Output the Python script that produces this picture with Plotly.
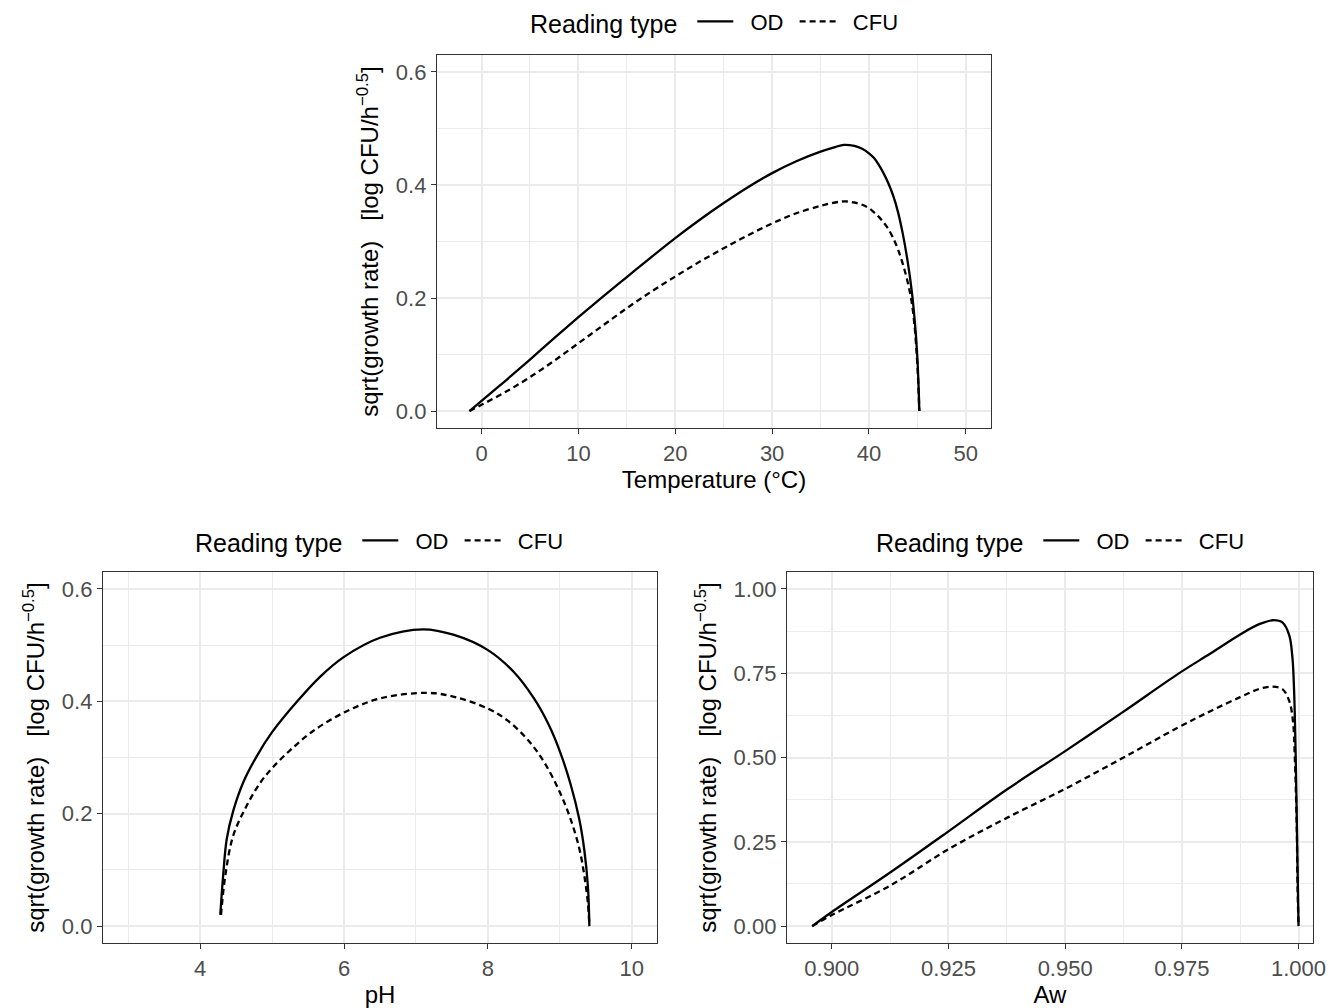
import plotly.graph_objects as go

# Temperature panel
temp_od_x = [-1.25, 0, 2.5, 5, 7.5, 10, 12.5, 15, 17.5, 20, 22.5, 25, 27.5, 30, 32.5, 35, 36.5,
             37.4, 38.5, 39.3, 40, 40.5, 41, 41.5, 42, 42.5, 43, 43.5, 44, 44.4, 44.7, 44.95,
             45.1, 45.2]
temp_od_y = [0.0, 0.018, 0.054, 0.091, 0.129, 0.166, 0.202, 0.237, 0.272, 0.306, 0.338, 0.368,
             0.396, 0.421, 0.442, 0.459, 0.467, 0.471, 0.469, 0.464, 0.456, 0.448, 0.436, 0.421,
             0.403, 0.381, 0.352, 0.313, 0.264, 0.215, 0.165, 0.108, 0.055, 0.0]
temp_cfu_x = [-1.25, 0, 2.5, 5, 7.5, 10, 12.5, 15, 17.5, 20, 22.5, 25, 27.5, 30, 32.5, 35, 36.5,
              37.5, 38.5, 39.3, 40, 40.5, 41, 41.5, 42, 42.5, 43, 43.5, 44, 44.4, 44.7, 44.95,
              45.1, 45.2]
temp_cfu_y = [0.0, 0.011, 0.034, 0.060, 0.089, 0.120, 0.151, 0.182, 0.211, 0.238, 0.264, 0.288,
              0.311, 0.332, 0.350, 0.363, 0.369, 0.371, 0.369, 0.365, 0.359, 0.352, 0.344, 0.334,
              0.322, 0.306, 0.286, 0.260, 0.228, 0.194, 0.152, 0.095, 0.045, 0.0]

# pH panel
ph_od_x = [4.28, 4.32, 4.37, 4.46, 4.60, 4.79, 5.0, 5.35, 5.67, 6.0, 6.5, 7.1, 7.53, 8.0, 8.36,
           8.64, 8.85, 9.0, 9.15, 9.27, 9.34, 9.39, 9.41]
ph_od_y = [0.02, 0.09, 0.155, 0.205, 0.256, 0.303, 0.345, 0.40, 0.444, 0.479, 0.513, 0.528, 0.518,
           0.491, 0.452, 0.405, 0.357, 0.311, 0.252, 0.19, 0.135, 0.070, 0.0]
ph_cfu_x = [4.29, 4.35, 4.46, 4.65, 4.84, 5.0, 5.26, 5.58, 6.0, 6.5, 7.15, 7.53, 8.0, 8.27, 8.55,
            8.78, 9.0, 9.15, 9.27, 9.34, 9.39, 9.41]
ph_cfu_y = [0.02, 0.09, 0.161, 0.215, 0.256, 0.281, 0.314, 0.348, 0.38, 0.405, 0.415, 0.408, 0.387,
            0.366, 0.332, 0.292, 0.238, 0.19, 0.138, 0.090, 0.040, 0.0]

# Aw panel
aw_od_x = [0.8958, 0.9, 0.9125, 0.925, 0.9375, 0.95, 0.9625, 0.9742, 0.9812, 0.9875, 0.9917,
           0.9945, 0.9966, 0.998, 0.9987, 0.99905, 0.9994, 0.99975, 1.0]
aw_od_y = [0.0, 0.042, 0.159, 0.281, 0.405, 0.519, 0.636, 0.748, 0.809, 0.865, 0.896, 0.907, 0.900,
           0.863, 0.795, 0.697, 0.50, 0.208, 0.0]
aw_cfu_x = [0.8958, 0.9, 0.9125, 0.925, 0.9375, 0.95, 0.9625, 0.9742, 0.9812, 0.9875, 0.9917,
            0.9945, 0.9966, 0.998, 0.9988, 0.9992, 0.9996, 0.9998, 1.0]
aw_cfu_y = [0.0, 0.033, 0.12, 0.228, 0.321, 0.407, 0.50, 0.589, 0.638, 0.679, 0.704, 0.710, 0.702,
            0.668, 0.609, 0.50, 0.306, 0.111, 0.0]

W, H = 1330, 1008
FONT = "Liberation Sans"
Y_TITLE = "sqrt(growth rate)   [log CFU/h<sup>\u22120.5</sup>]"
NB = "\u00a0"

panels = [
    (temp_od_x, temp_od_y, temp_cfu_x, temp_cfu_y, "", "legend"),
    (ph_od_x, ph_od_y, ph_cfu_x, ph_cfu_y, "2", "legend2"),
    (aw_od_x, aw_od_y, aw_cfu_x, aw_cfu_y, "3", "legend3"),
]

fig = go.Figure()
for odx, ody, cfux, cfuy, ax, leg in panels:
    fig.add_trace(go.Scatter(x=odx, y=ody, mode="lines", name=NB * 2 + "OD" + NB, legend=leg,
                             xaxis="x" + ax, yaxis="y" + ax,
                             line=dict(color="black", width=2.3, shape="spline", smoothing=1.0)))
    fig.add_trace(go.Scatter(x=cfux, y=cfuy, mode="lines", name=NB * 2 + "CFU", legend=leg,
                             xaxis="x" + ax, yaxis="y" + ax,
                             line=dict(color="black", width=2.3, dash="6px,4px",
                                       shape="spline", smoothing=1.0)))


def px(x):
    return x / W


def py(y):
    return 1 - y / H


def box(x0, y0, x1, y1):
    return [px(x0), px(x1)], [py(y1), py(y0)]


def axis_style(title, dtick, minor, rng, fmt, domain, anchor, standoff=6):
    return dict(
        title=dict(text=title, font=dict(size=24, color="black"), standoff=standoff),
        range=rng, dtick=dtick, tickformat=fmt, domain=domain, anchor=anchor,
        automargin=False,
        showgrid=True, gridcolor="#EBEBEB", gridwidth=1.6,
        minor=dict(dtick=minor, showgrid=True, gridcolor="#EBEBEB", gridwidth=0.8),
        showline=True, mirror=True, linecolor="#333333", linewidth=1.4,
        ticks="outside", ticklen=5, tickwidth=1.4, tickcolor="#333333",
        tickfont=dict(size=22, color="#4D4D4D"), zeroline=False,
    )


dx1, dy1 = box(437, 55, 991, 428)
dx2, dy2 = box(103, 572, 657, 943)
dx3, dy3 = box(787, 572, 1313, 943)

legend_style = dict(
    orientation="h", xanchor="center", yanchor="middle",
    title=dict(text="Reading type ", side="left", font=dict(size=25, color="black")),
    font=dict(size=22, color="black"), bgcolor="rgba(0,0,0,0)", itemwidth=36,
)

fig.update_layout(
    width=W, height=H,
    margin=dict(l=0, r=0, t=0, b=0, autoexpand=False),
    paper_bgcolor="white", plot_bgcolor="white",
    font=dict(family=FONT, color="black"),
    xaxis=axis_style("Temperature (\u00b0C)", 10, 5, [-4.6, 52.6], "d", dx1, "y"),
    yaxis=axis_style(Y_TITLE, 0.2, 0.1, [-0.03, 0.63], ".1f", dy1, "x", 10),
    xaxis2=axis_style("pH", 2, 1, [2.65, 10.35], "d", dx2, "y2"),
    yaxis2=axis_style(Y_TITLE, 0.2, 0.1, [-0.03, 0.63], ".1f", dy2, "x2", 10),
    xaxis3=axis_style("Aw", 0.025, 0.0125, [0.8904, 1.0031], ".3f", dx3, "y3"),
    yaxis3=axis_style(Y_TITLE, 0.25, 0.125, [-0.05, 1.05], ".2f", dy3, "x3", 10),
    legend=dict(legend_style, x=px(716), y=py(22)),
    legend2=dict(legend_style, x=px(381), y=py(541)),
    legend3=dict(legend_style, x=px(1062), y=py(541)),
)

# drop the default body margin so the figure sits at the page origin
fig.write_html("out.html", config={"displayModeBar": False},
               post_script="document.body.style.margin='0';document.body.style.overflow='hidden';")
